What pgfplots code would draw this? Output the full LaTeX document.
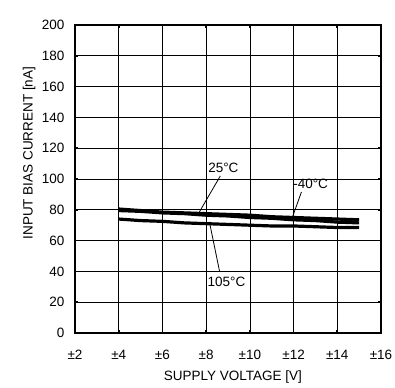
\documentclass[border=0pt]{standalone}
\usepackage{pgfplots}
\pgfplotsset{compat=1.18}
\usepackage{fontspec}
\setmainfont{Liberation Sans}
\begin{document}
\begin{tikzpicture}[font=\fontsize{13.5}{15}\selectfont]
    \begin{axis}[
    scale only axis,
    width=306pt,height=308pt,
    xmin=2,xmax=16,
    ymin=0,ymax=200,
    xtick={2,4,...,16},
    xticklabels={±2,±4,±6,±8,±10,±12,±14,±16},
    ytick={0,20,...,200},
    /pgf/number format/assume math mode=true,
    xticklabel style={yshift=-14pt},
    yticklabel style={xshift=-7pt},
    grid=major,
    major grid style={black,line width=0.7pt},
    axis line style={black,line width=2.5pt},
    tick align=inside,
    major tick length=3pt,
    tick style={black,line width=1.6pt},
    xlabel={SUPPLY VOLTAGE [V]},
    ylabel={INPUT BIAS CURRENT [nA]},
    xlabel style={at={(axis description cs:0.516,-0.143)},anchor=center},
    ylabel style={at={(axis description cs:-0.150,0.584)},anchor=center,rotate=0},
    ]
    % 25 C
    \addplot[black,line width=3.2pt] coordinates {
    (4,80.5) (5,79.5) (6,78.5) (7,78) (8,77.5) (9,77) (10,76.5)
    (11,75.5) (12,75) (13,74.5) (14,74) (15,73.5)
    };
    % -40 C
    \addplot[black,line width=3.2pt] coordinates {
    (4,79.5) (5,79) (6,78) (7,77.5) (8,76.5) (9,76) (10,75)
    (11,74.5) (12,73.5) (13,73) (14,72) (15,71.5)
    };
    % 105 C
    \addplot[black,line width=3.2pt] coordinates {
    (4,74) (5,73) (6,72.5) (7,71.5) (8,71) (9,70.5) (10,70)
    (11,69.5) (12,69.5) (13,69) (14,68.5) (15,68.5)
    };
    \draw[black,line width=0.8pt] (axis cs:8.65,102) -- (axis cs:7.69,78.6);
    \draw[black,line width=0.8pt] (axis cs:12.36,91.6) -- (axis cs:11.94,74.9);
    \draw[black,line width=0.8pt] (axis cs:8.61,40.3) -- (axis cs:8.15,72.1);
    \node at (axis cs:8.79,107.5) {25°C};
    \node at (axis cs:12.78,97) {-40°C};
    \node at (axis cs:8.93,33.5) {105°C};
    \node[anchor=base east,inner sep=0pt] at ([yshift=2.5pt]rel axis cs:1,1) {BA4560R\ \ family};
    \end{axis}
    \pgfresetboundingbox
    \path[use as bounding box] ([shift={(-75pt,-54pt)}]current axis.south west) rectangle ([shift={(14pt,25pt)}]current axis.north east);
\end{tikzpicture}
\end{document}
